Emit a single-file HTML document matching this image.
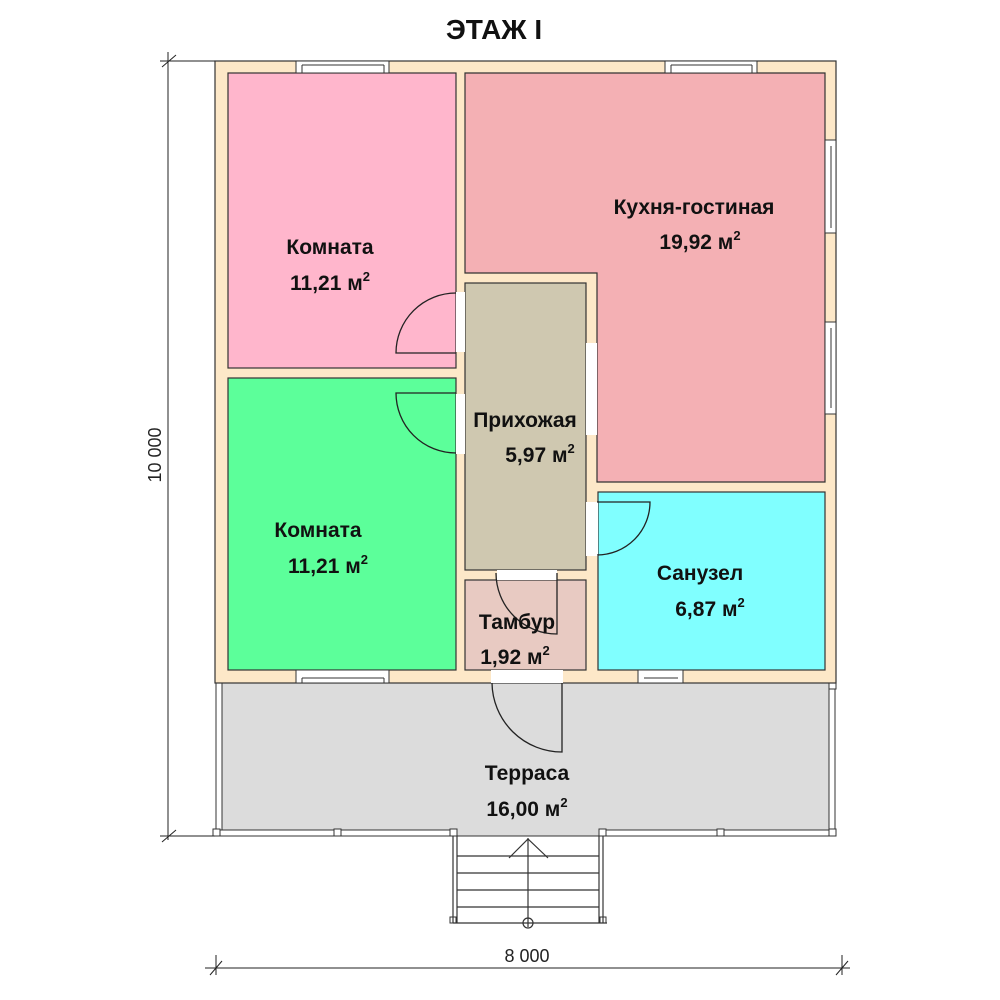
<!DOCTYPE html>
<html><head><meta charset="utf-8"><style>
html,body{margin:0;padding:0;background:#fff;}
svg{display:block;font-family:"Liberation Sans",sans-serif;}
.l{font-weight:bold;font-size:21px;fill:#111;text-anchor:middle;}
.s{font-size:13px;}
</style></head><body>
<svg width="1000" height="1000" viewBox="0 0 1000 1000">
<text x="494" y="39" text-anchor="middle" font-weight="bold" font-size="28" fill="#111">ЭТАЖ I</text>
<!-- terrace -->
<rect x="216" y="683" width="619" height="153" fill="#dcdcdc" stroke="#333" stroke-width="1"/>
<rect x="216" y="683" width="6" height="153" fill="#fff" stroke="#333" stroke-width="1"/>
<rect x="829" y="683" width="6" height="153" fill="#fff" stroke="#333" stroke-width="1"/>
<rect x="216" y="830" width="238" height="6" fill="#fff" stroke="#333" stroke-width="1"/>
<rect x="602" y="830" width="233" height="6" fill="#fff" stroke="#333" stroke-width="1"/>
<g fill="#fff" stroke="#333" stroke-width="1">
<rect x="213" y="829" width="7" height="7"/><rect x="334" y="829" width="7" height="7"/><rect x="450" y="829" width="7" height="7"/>
<rect x="599" y="829" width="7" height="7"/><rect x="717" y="829" width="7" height="7"/><rect x="829" y="829" width="7" height="7"/>
<rect x="829" y="682" width="7" height="7"/>
<rect x="450" y="917" width="6" height="6"/><rect x="600" y="917" width="6" height="6"/>
</g>
<!-- stairs -->
<g stroke="#333" stroke-width="1.2" fill="none">
<line x1="453" y1="836" x2="453" y2="923"/><line x1="457" y1="836" x2="457" y2="923"/>
<line x1="603" y1="836" x2="603" y2="923"/><line x1="599" y1="836" x2="599" y2="923"/>
<line x1="453" y1="923" x2="607" y2="923"/>
<line x1="457" y1="856" x2="599" y2="856"/><line x1="457" y1="873" x2="599" y2="873"/>
<line x1="457" y1="890" x2="599" y2="890"/><line x1="457" y1="907" x2="599" y2="907"/>
<line x1="528" y1="838" x2="528" y2="927"/>
<polyline points="509,858 528,839 548,858"/>
<circle cx="528" cy="923" r="5"/>
</g>
<!-- walls -->
<rect x="215" y="61" width="621" height="622" fill="#fde8c8" stroke="#333" stroke-width="1.2"/>
<g stroke="#333" stroke-width="1.2">
<rect x="228" y="73" width="228" height="295" fill="#ffb6cc"/>
<polygon points="465,73 825,73 825,482 597,482 597,273 465,273" fill="#f4b0b4"/>
<rect x="465" y="283" width="121" height="287" fill="#cfc8b0"/>
<rect x="228" y="378" width="228" height="292" fill="#5cff9a"/>
<rect x="465" y="580" width="121" height="90" fill="#e8cac2"/>
<rect x="598" y="492" width="227" height="178" fill="#80ffff"/>
</g>
<!-- openings -->
<g fill="#fff">
<rect x="456" y="292" width="9" height="60"/>
<rect x="456" y="394" width="9" height="60"/>
<rect x="586" y="343" width="11" height="92"/>
<rect x="586" y="502" width="12" height="54"/>
<rect x="497" y="570" width="60" height="10"/>
<rect x="491" y="670" width="72" height="13"/>
</g>
<!-- windows -->
<g fill="#fff" stroke="#333" stroke-width="1">
<rect x="296" y="61" width="93" height="12"/><line x1="302" y1="65" x2="384" y2="65"/><line x1="302" y1="65" x2="302" y2="73"/><line x1="384" y1="65" x2="384" y2="73"/>
<rect x="665" y="61" width="92" height="12"/><line x1="671" y1="65" x2="752" y2="65"/><line x1="671" y1="65" x2="671" y2="73"/><line x1="752" y1="65" x2="752" y2="73"/>
<rect x="825" y="140" width="11" height="93"/><line x1="831" y1="146" x2="831" y2="228"/>
<rect x="825" y="322" width="11" height="92"/><line x1="831" y1="328" x2="831" y2="408"/>
<rect x="296" y="670" width="93" height="13"/><line x1="302" y1="678" x2="384" y2="678"/><line x1="302" y1="678" x2="302" y2="683"/><line x1="384" y1="678" x2="384" y2="683"/>
<rect x="638" y="670" width="45" height="13"/><line x1="644" y1="678" x2="678" y2="678"/>
</g>
<!-- doors -->
<g fill="none" stroke="#222" stroke-width="1.3">
<path d="M456,353 L396,353 A60,60 0 0 1 456,293"/>
<path d="M456,393 L396,393 A60,60 0 0 0 456,453"/>
<path d="M597,502 L650,502 A53,53 0 0 1 597,555"/>
<path d="M557,573 L557,634 A61,61 0 0 1 496,573"/>
<path d="M562,683 L562,752 A70,70 0 0 1 492,683"/>
</g>
<!-- labels -->
<text class="l" x="330" y="254">Комната</text>
<text class="l" x="330" y="290">11,21 м<tspan class="s" dy="-9">2</tspan></text>
<text class="l" x="694" y="214">Кухня-гостиная</text>
<text class="l" x="700" y="249">19,92 м<tspan class="s" dy="-9">2</tspan></text>
<text class="l" x="525" y="427">Прихожая</text>
<text class="l" x="540" y="462">5,97 м<tspan class="s" dy="-9">2</tspan></text>
<text class="l" x="318" y="537">Комната</text>
<text class="l" x="328" y="573">11,21 м<tspan class="s" dy="-9">2</tspan></text>
<text class="l" x="700" y="580">Санузел</text>
<text class="l" x="710" y="616">6,87 м<tspan class="s" dy="-9">2</tspan></text>
<text class="l" x="517" y="629">Тамбур</text>
<text class="l" x="515" y="664">1,92 м<tspan class="s" dy="-9">2</tspan></text>
<text class="l" x="527" y="780">Терраса</text>
<text class="l" x="527" y="816">16,00 м<tspan class="s" dy="-9">2</tspan></text>
<!-- dimensions -->
<g stroke="#222" stroke-width="1">
<line x1="168" y1="52" x2="168" y2="840"/>
<line x1="160" y1="61" x2="215" y2="61"/><line x1="160" y1="836" x2="215" y2="836"/>
<line x1="162" y1="67" x2="176" y2="55"/><line x1="162" y1="842" x2="176" y2="830"/>
<line x1="205" y1="968" x2="850" y2="968"/>
<line x1="216" y1="955" x2="216" y2="975"/><line x1="842" y1="955" x2="842" y2="975"/>
<line x1="210" y1="975" x2="222" y2="961"/><line x1="836" y1="975" x2="848" y2="961"/>
</g>
<text x="527" y="962" text-anchor="middle" font-size="18" fill="#222">8 000</text>
<text x="0" y="0" transform="translate(161,455) rotate(-90)" text-anchor="middle" font-size="18" fill="#222">10 000</text>
</svg>
</body></html>
